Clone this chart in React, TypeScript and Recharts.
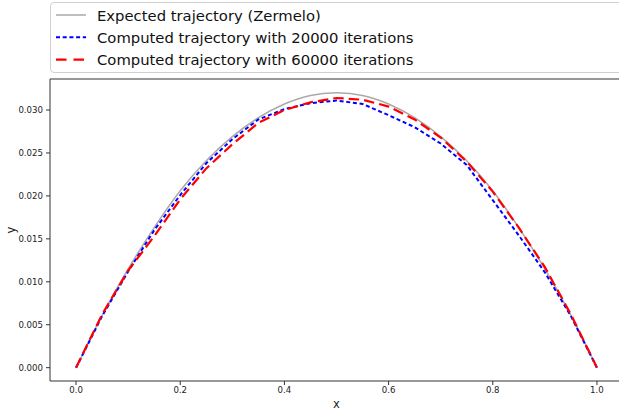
import { LineChart, Line, XAxis, YAxis, ReferenceLine } from 'recharts';

const xs = [0, 0.05, 0.1, 0.15, 0.2, 0.25, 0.3, 0.35, 0.4, 0.45, 0.5, 0.55, 0.6, 0.65, 0.7, 0.75, 0.8, 0.85, 0.9, 0.95, 1.0];
const expectedY = [0, 0.0061, 0.0115, 0.0163, 0.0206, 0.0241, 0.0269, 0.0291, 0.0307, 0.0317, 0.032, 0.0317, 0.0307, 0.0291, 0.0269, 0.0241, 0.0206, 0.0163, 0.0115, 0.0061, 0];
const iter20000Y = [0, 0.006, 0.0112, 0.016, 0.0201, 0.0238, 0.0266, 0.0289, 0.0301, 0.0308, 0.0311, 0.0307, 0.0294, 0.028, 0.0261, 0.0236, 0.0195, 0.0154, 0.0111, 0.006, 0];
const iter60000Y = [0, 0.0062, 0.0113, 0.0153, 0.0196, 0.0232, 0.026, 0.0285, 0.03, 0.0309, 0.0314, 0.0312, 0.0304, 0.0289, 0.0268, 0.024, 0.0205, 0.0163, 0.0117, 0.0062, 0];

const xTicks = [0, 0.2, 0.4, 0.6, 0.8, 1.0];
const yTicks = [0, 0.005, 0.01, 0.015, 0.02, 0.025, 0.03];
const seriesNames = [
  'Expected trajectory (Zermelo)',
  'Computed trajectory with 20000 iterations',
  'Computed trajectory with 60000 iterations',
];

const toPoints = (ys: number[]) => xs.map((x, i) => ({ x, y: ys[i] }));

const expected = toPoints(expectedY);
const run20000 = toPoints(iter20000Y);
const run60000 = toPoints(iter60000Y);

const X_DOMAIN: [number, number] = [-0.05, 1.05];
const Y_DOMAIN: [number, number] = [-0.00155, 0.03361];
const FONT = '"DejaVu Sans", sans-serif';
const AXIS = '#333';

const legendStyles = [
  { color: '#aaaaaa', width: 1.5, dash: undefined },
  { color: '#0000ff', width: 2, dash: '4 2.7' },
  { color: '#ff0000', width: 2.2, dash: '10.5 7' },
];

function YLabel({ viewBox }: any) {
  const cy = viewBox.y + viewBox.height / 2;
  return (
    <text x={15} y={cy} transform={`rotate(-90, 15, ${cy})`} textAnchor="middle" fontSize={11.5} fontFamily={FONT} fill="#222">
      y
    </text>
  );
}

function LegendBox() {
  return (
    <div style={{ position: 'absolute', left: 50, top: 2, width: 600, height: 71, border: '1px solid #d0d0d0', borderRadius: 4, background: 'rgba(255,255,255,0.8)', boxSizing: 'border-box' }}>
      <svg width={600} height={71} style={{ position: 'absolute', left: -1, top: -1 }}>
        {seriesNames.map((name, i) => {
          const cy = 13 + i * 22.3;
          const s = legendStyles[i];
          return (
            <g key={name}>
              <line x1={6} x2={36} y1={cy} y2={cy} stroke={s.color} strokeWidth={s.width} strokeDasharray={s.dash} />
              <text x={47} y={cy} dominantBaseline="central" fontSize={14.8} fontFamily={FONT} fill="#111">
                {name}
              </text>
            </g>
          );
        })}
      </svg>
    </div>
  );
}

export default function App() {
  return (
    <div style={{ position: 'absolute', left: 0, top: 0, width: 619, height: 416, overflow: 'hidden', background: '#fff' }}>
      <LineChart width={630} height={416} margin={{ top: 79, right: 7, bottom: 0, left: 0 }}>
        <XAxis
          type="number"
          dataKey="x"
          domain={X_DOMAIN}
          ticks={xTicks}
          allowDataOverflow
          tickFormatter={(v: number) => v.toFixed(1)}
          tick={{ fontSize: 8.6, fill: '#222', fontFamily: FONT }}
          tickSize={4}
          tickMargin={2}
          height={35}
          stroke={AXIS}
          label={{ value: 'x', position: 'insideBottom', offset: 8, fontSize: 11.5, fill: '#222', fontFamily: FONT }}
        />
        <YAxis
          type="number"
          dataKey="y"
          domain={Y_DOMAIN}
          ticks={yTicks}
          allowDataOverflow
          tickFormatter={(v: number) => v.toFixed(3)}
          tick={{ fontSize: 8.6, fill: '#222', fontFamily: FONT }}
          tickSize={4}
          tickMargin={3}
          width={50}
          stroke={AXIS}
          label={<YLabel />}
        />
        <ReferenceLine y={Y_DOMAIN[1]} stroke={AXIS} strokeWidth={1} />
        <Line data={expected} dataKey="y" type="natural" stroke="#aaaaaa" strokeWidth={1.5} dot={false} isAnimationActive={false} />
        <Line data={run20000} dataKey="y" type="linear" stroke="#0000ff" strokeWidth={2} strokeDasharray="4 2.7" dot={false} isAnimationActive={false} />
        <Line data={run60000} dataKey="y" type="linear" stroke="#ff0000" strokeWidth={2.2} strokeDasharray="10.5 5" dot={false} isAnimationActive={false} />
      </LineChart>
      <LegendBox />
    </div>
  );
}
